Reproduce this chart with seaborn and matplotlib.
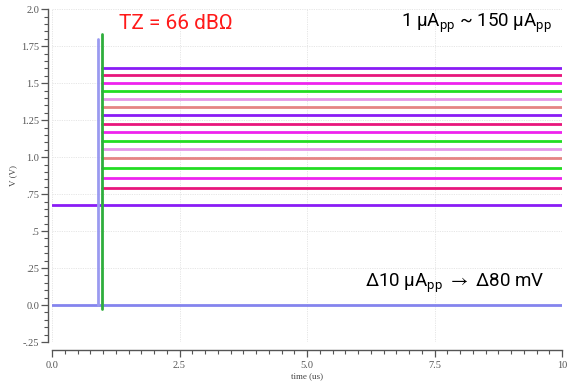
import matplotlib
matplotlib.use("Agg")
import matplotlib.pyplot as plt
import seaborn as sns
import pandas as pd
import numpy as np
from matplotlib.ticker import MultipleLocator, FixedLocator, FixedFormatter

# ---- data ----
step_levels = [1.603, 1.554, 1.502, 1.448, 1.395, 1.341, 1.286, 1.225,
               1.169, 1.112, 1.054, 0.993, 0.930, 0.862, 0.791]
step_colors = ["#8a1cf5", "#e8167c", "#ee22ee", "#22dd22", "#e596e8", "#e58484",
               "#8a1cf5", "#e8167c", "#ee22ee", "#22dd22", "#e596e8", "#e58484",
               "#22dd22", "#ee22ee", "#e8167c"]
step_start = 0.98          # us, where the stepped traces begin
t_end = 10.0
base_level = 0.676         # purple trace from t = 0
zero_level = 0.0           # blue baseline
blue_spike_t, blue_spike_top = 0.90, 1.80
green_spike_t, green_spike_bot, green_spike_top = 0.99, -0.03, 1.83

x_ticks = [0.0, 2.5, 5.0, 7.5, 10.0]
x_tick_labels = ["0.0", "2.5", "5.0", "7.5", "10"]
y_ticks = [-0.25, 0.0, 0.25, 0.5, 0.75, 1.0, 1.25, 1.5, 1.75, 2.0]
y_tick_labels = ["-.25", "0.0", ".25", ".5", ".75", "1.0", "1.25", "1.5", "1.75", "2.0"]

# ---- build long table ----
rows = []
palette = {}
for i, (lv, c) in enumerate(zip(step_levels, step_colors)):
    name = f"step{i}"
    palette[name] = c
    rows += [(name, step_start, lv), (name, t_end, lv)]
palette["base"] = "#8a1cf5"
rows += [("base", 0.0, base_level), ("base", t_end, base_level)]
palette["zero"] = "#8484ee"
rows += [("zero", 0.0, zero_level), ("zero", t_end, zero_level)]
palette["bspike"] = "#9a9af0"
rows += [("bspike", blue_spike_t, zero_level), ("bspike", blue_spike_t, blue_spike_top)]
palette["gspike"] = "#2fae3c"
rows += [("gspike", green_spike_t, green_spike_bot), ("gspike", green_spike_t, green_spike_top)]
df = pd.DataFrame(rows, columns=["trace", "time", "V"])

sns.set_theme(style="white")
plt.rcParams["mathtext.fontset"] = "custom"
plt.rcParams["mathtext.rm"] = "Roboto"
plt.rcParams["mathtext.it"] = "Roboto"
plt.rcParams["mathtext.fallback"] = "stixsans"

fig = plt.figure(figsize=(5.70, 3.81), dpi=100)
ax = fig.add_axes([52 / 570, 1 - 342 / 381, 510 / 570, (342 - 9.3) / 381])

sns.lineplot(data=df, x="time", y="V", hue="trace", palette=palette, units="trace",
             estimator=None, sort=False, legend=False, linewidth=2.0, ax=ax)

ax.set_xlim(0, 10)
ax.set_ylim(-0.25, 2.0)

ax.xaxis.set_major_locator(FixedLocator(x_ticks))
ax.xaxis.set_major_formatter(FixedFormatter(x_tick_labels))
ax.xaxis.set_minor_locator(MultipleLocator(0.25))
ax.yaxis.set_major_locator(FixedLocator(y_ticks))
ax.yaxis.set_major_formatter(FixedFormatter(y_tick_labels))
ax.yaxis.set_minor_locator(MultipleLocator(0.05))

ax.grid(True, which="major", linestyle=(0, (1.2, 1.2)), color="#e6e6e6", linewidth=0.7)
ax.set_axisbelow(True)

for s in ["top", "right"]:
    ax.spines[s].set_visible(False)
ax.spines["left"].set_position(("outward", 3))
ax.spines["bottom"].set_position(("outward", 6))
for s in ["left", "bottom"]:
    ax.spines[s].set_color("#555555")
    ax.spines[s].set_linewidth(1.0)

ax.tick_params(which="major", direction="out", length=5, width=0.9, color="#555555",
               labelsize=7.5, labelcolor="#555555", left=True, bottom=True)
ax.tick_params(which="minor", direction="out", length=3, width=0.8, color="#555555",
               left=True, bottom=True)
for lab in ax.get_xticklabels() + ax.get_yticklabels():
    lab.set_family("Liberation Serif")
ax.tick_params(axis="x", pad=3)
ax.tick_params(axis="y", pad=1)

ax.set_xlabel("time (us)", family="Liberation Serif", fontsize=6.5, color="#444444", labelpad=1)
ax.set_ylabel("V (V)", family="Liberation Serif", fontsize=6.5, color="#444444", labelpad=3)

ax.text(1.31, 1.865, "TZ = 66 dBΩ", color="#ff1a1a", fontsize=15, family="Roboto",
        ha="left", va="baseline")
ax.text(9.80, 1.88, r"1 μA$_{\mathrm{pp}}$ ~ 150 μA$_{\mathrm{pp}}$", color="black",
        fontsize=13.5, family="Roboto", ha="right", va="baseline")
ax.text(6.13, 0.125, r"Δ10 μA$_{\mathrm{pp}}$ $\rightarrow$ Δ80 mV", color="black",
        fontsize=13.5, family="Roboto", ha="left", va="baseline")

fig.savefig("out.png", dpi=100)
